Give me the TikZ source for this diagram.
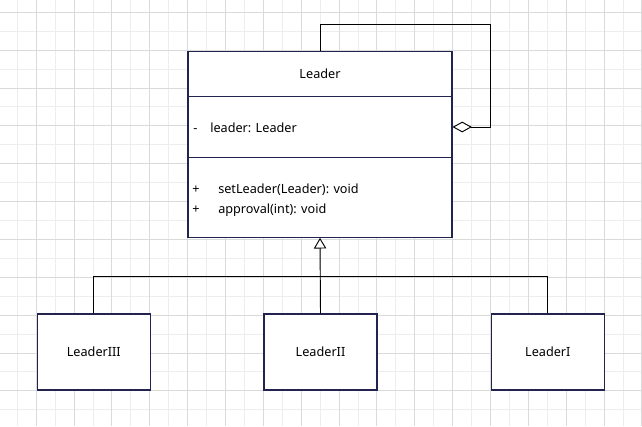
\documentclass[tikz,border=0pt]{standalone}
\usepackage{fontspec}
\setmainfont{Noto Sans}
\usetikzlibrary{arrows.meta}
\definecolor{gridminor}{HTML}{EDEDED}
\definecolor{gridmajor}{HTML}{DADADA}
\definecolor{boxline}{HTML}{23234F}
\begin{document}
\begin{tikzpicture}[x=0.75pt,y=-0.75pt,
  umlbox/.style={draw=boxline, line width=0.8pt, fill=white, rectangle, inner sep=0pt, font=\fontsize{9.5}{11}\selectfont},
  lbl/.style={inner sep=0pt, font=\fontsize{9.5}{11}\selectfont, anchor=base west},
  conn/.style={draw=black, line width=0.7pt},
  inh/.style={conn, -{Triangle[open, length=8pt, width=9.3pt, fill=white]}},
  agg/.style={conn, -{Diamond[open, length=14.5pt, width=8pt, fill=white]}}
]
\useasboundingbox (0,0) rectangle (642,426);
\fill[white] (0,0) rectangle (642,426);
\begin{scope}
\clip (0,0) rectangle (642,426);
\foreach \k in {0,...,16} {
  \draw[gridminor, line width=0.75pt] ({17.3+37.86*\k},0) -- ({17.3+37.86*\k},426);
}
\foreach \k in {0,...,10} {
  \draw[gridminor, line width=0.75pt] (0,{31.2+37.86*\k}) -- (642,{31.2+37.86*\k});
}
\foreach \k in {0,...,16} {
  \draw[gridmajor, line width=0.75pt] ({36.23+37.86*\k},0) -- ({36.23+37.86*\k},426);
}
\foreach \k in {0,...,11} {
  \draw[gridmajor, line width=0.75pt] (0,{12.3+37.86*\k}) -- (642,{12.3+37.86*\k});
}
\end{scope}

% Leader class
\node[umlbox, minimum width=198pt, minimum height=34pt] (ltitle) at (320,74) {Leader};
\node[umlbox, minimum width=198pt, minimum height=45.5pt] (lattr) at (320,127) {};
\node[umlbox, minimum width=198pt, minimum height=60pt] (lops) at (320,197.3) {};
\node[lbl] (attrvis) at (193,132) {-};
\node[lbl] (attrtxt) at (210,132) {leader: Leader};
\node[lbl] (op1vis) at (192,193) {+};
\node[lbl] (op1txt) at (218,193) {setLeader(Leader): void};
\node[lbl] (op2vis) at (192,213) {+};
\node[lbl] (op2txt) at (218,213) {approval(int): void};

% Subclasses
\node[umlbox, minimum width=84.75pt, minimum height=57pt] (c3) at (93.8,352) {LeaderIII};
\node[umlbox, minimum width=84.75pt, minimum height=57pt] (c2) at (320.5,352) {LeaderII};
\node[umlbox, minimum width=84.75pt, minimum height=57pt] (c1) at (547.8,352) {LeaderI};

% Connectors
\coordinate (jn) at (320.5,276.5);
\coordinate (loopc) at (490.3,24.7);
\draw[conn] (c3.north) |- (jn) -| (c1.north);
\draw[inh] (c2.north) -- (lops.south);
\draw[agg] (ltitle.north) |- (loopc) |- (lattr.east);
\end{tikzpicture}
\end{document}
